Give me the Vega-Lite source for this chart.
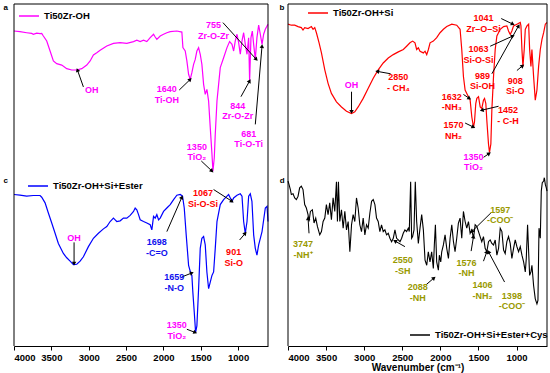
{
"$schema": "https://vega.github.io/schema/vega-lite/v6.json",
"padding": {"left": 3, "top": 3, "right": 0, "bottom": 0},
"config": {"view": {"stroke": null}, "font": "Liberation Sans",
  "axis": {"domainColor": "black", "domainWidth": 1, "grid": false, "tickColor": "black", "labelColor": "black", "labelFontWeight": "bold", "labelFontSize": 9.5, "titleColor": "black"},
  "legend": {"symbolType": "stroke", "symbolSize": 400, "symbolStrokeWidth": 1.3, "labelFontSize": 9.5, "labelFontWeight": "bold", "labelColor": "black", "title": null, "clipHeight": 10, "padding": 0, "orient": "none"}},
"resolve": {"scale": {"stroke": "independent", "color": "independent"}, "legend": {"stroke": "independent"}},
"datasets": {
"a": [{"w":4000,"T":84.2},{"w":3920,"T":83.8},{"w":3830,"T":83.2},{"w":3763,"T":82.8},{"w":3741,"T":82.3},{"w":3696,"T":83.0},{"w":3651,"T":82.7},{"w":3629,"T":82.8},{"w":3607,"T":81.3},{"w":3562,"T":78.4},{"w":3517,"T":72.5},{"w":3473,"T":66.7},{"w":3428,"T":65.1},{"w":3361,"T":64.3},{"w":3294,"T":62.2},{"w":3227,"T":61.4},{"w":3160,"T":61.4},{"w":3093,"T":62.2},{"w":3026,"T":64.3},{"w":2981,"T":66.7},{"w":2937,"T":70.2},{"w":2892,"T":71.5},{"w":2847,"T":72.9},{"w":2758,"T":75.4},{"w":2669,"T":77.0},{"w":2579,"T":77.4},{"w":2490,"T":77.0},{"w":2400,"T":78.0},{"w":2356,"T":78.8},{"w":2311,"T":78.0},{"w":2266,"T":78.8},{"w":2222,"T":78.0},{"w":2177,"T":80.3},{"w":2132,"T":82.3},{"w":2110,"T":80.7},{"w":2088,"T":79.3},{"w":2043,"T":81.3},{"w":1998,"T":82.3},{"w":1954,"T":83.2},{"w":1909,"T":83.8},{"w":1820,"T":84.2},{"w":1753,"T":83.6},{"w":1739,"T":74.5},{"w":1708,"T":72.5},{"w":1686,"T":66.7},{"w":1663,"T":58.9},{"w":1641,"T":55.9},{"w":1619,"T":59.8},{"w":1596,"T":64.7},{"w":1574,"T":67.6},{"w":1552,"T":72.5},{"w":1529,"T":74.5},{"w":1507,"T":70.6},{"w":1485,"T":64.7},{"w":1462,"T":53.0},{"w":1440,"T":47.2},{"w":1418,"T":50.1},{"w":1395,"T":43.3},{"w":1373,"T":27.7},{"w":1350,"T":12.1},{"w":1337,"T":2.3},{"w":1319,"T":10.1},{"w":1306,"T":23.8},{"w":1283,"T":43.3},{"w":1261,"T":53.0},{"w":1239,"T":62.8},{"w":1194,"T":68.6},{"w":1149,"T":74.5},{"w":1114,"T":78.0},{"w":1082,"T":76.4},{"w":1060,"T":72.5},{"w":1038,"T":78.4},{"w":1015,"T":82.3},{"w":993,"T":77.4},{"w":971,"T":70.6},{"w":948,"T":78.4},{"w":926,"T":83.2},{"w":904,"T":76.4},{"w":881,"T":70.6},{"w":859,"T":80.3},{"w":846,"T":55.0},{"w":828,"T":80.3},{"w":810,"T":84.2},{"w":792,"T":76.4},{"w":770,"T":67.6},{"w":748,"T":80.3},{"w":725,"T":87.7},{"w":703,"T":82.3},{"w":680,"T":76.4},{"w":658,"T":82.3},{"w":636,"T":85.2},{"w":613,"T":87.1},{"w":600,"T":88.1}],
"b": [{"w":4000,"T":88.2},{"w":3956,"T":87.6},{"w":3912,"T":87.6},{"w":3868,"T":86.8},{"w":3825,"T":86.2},{"w":3803,"T":84.8},{"w":3781,"T":86.2},{"w":3737,"T":85.6},{"w":3693,"T":86.8},{"w":3671,"T":85.2},{"w":3649,"T":86.2},{"w":3627,"T":83.2},{"w":3592,"T":77.3},{"w":3561,"T":71.4},{"w":3517,"T":61.5},{"w":3474,"T":53.6},{"w":3430,"T":47.7},{"w":3364,"T":42.8},{"w":3298,"T":39.8},{"w":3232,"T":37.3},{"w":3166,"T":35.9},{"w":3123,"T":36.9},{"w":3079,"T":39.8},{"w":3013,"T":44.8},{"w":2947,"T":50.7},{"w":2881,"T":56.6},{"w":2816,"T":61.5},{"w":2750,"T":65.5},{"w":2684,"T":68.4},{"w":2618,"T":70.4},{"w":2552,"T":72.0},{"w":2486,"T":73.4},{"w":2443,"T":75.3},{"w":2399,"T":77.3},{"w":2364,"T":78.3},{"w":2333,"T":77.3},{"w":2311,"T":73.4},{"w":2289,"T":74.4},{"w":2267,"T":72.4},{"w":2223,"T":71.4},{"w":2201,"T":72.4},{"w":2179,"T":70.4},{"w":2157,"T":73.4},{"w":2135,"T":77.3},{"w":2092,"T":78.3},{"w":2048,"T":80.3},{"w":2004,"T":83.2},{"w":1960,"T":85.2},{"w":1916,"T":86.8},{"w":1850,"T":88.2},{"w":1785,"T":87.6},{"w":1741,"T":85.2},{"w":1719,"T":73.4},{"w":1697,"T":57.6},{"w":1675,"T":49.7},{"w":1653,"T":47.7},{"w":1631,"T":45.8},{"w":1609,"T":43.8},{"w":1587,"T":33.9},{"w":1565,"T":28.0},{"w":1552,"T":31.0},{"w":1535,"T":41.8},{"w":1521,"T":44.8},{"w":1499,"T":45.8},{"w":1477,"T":39.8},{"w":1456,"T":38.9},{"w":1434,"T":43.8},{"w":1420,"T":44.8},{"w":1403,"T":41.8},{"w":1390,"T":32.0},{"w":1368,"T":18.1},{"w":1355,"T":13.2},{"w":1337,"T":18.1},{"w":1324,"T":37.9},{"w":1302,"T":57.6},{"w":1280,"T":73.4},{"w":1258,"T":81.3},{"w":1214,"T":85.2},{"w":1170,"T":86.8},{"w":1127,"T":87.2},{"w":1105,"T":84.2},{"w":1083,"T":82.2},{"w":1061,"T":84.2},{"w":1039,"T":87.2},{"w":995,"T":88.2},{"w":951,"T":89.2},{"w":942,"T":87.2},{"w":929,"T":73.4},{"w":916,"T":63.5},{"w":899,"T":73.4},{"w":885,"T":85.2},{"w":863,"T":87.2},{"w":841,"T":88.2},{"w":828,"T":73.4},{"w":811,"T":63.5},{"w":798,"T":73.4},{"w":776,"T":57.6},{"w":754,"T":43.8},{"w":732,"T":49.7},{"w":710,"T":63.5},{"w":688,"T":73.4},{"w":666,"T":79.3},{"w":644,"T":83.2},{"w":622,"T":88.2},{"w":600,"T":89.2}],
"c": [{"w":4000,"T":88.6},{"w":3920,"T":88.2},{"w":3830,"T":87.6},{"w":3741,"T":88.0},{"w":3651,"T":88.0},{"w":3629,"T":87.0},{"w":3584,"T":83.7},{"w":3540,"T":77.8},{"w":3495,"T":71.9},{"w":3450,"T":65.9},{"w":3406,"T":60.0},{"w":3339,"T":54.1},{"w":3294,"T":51.6},{"w":3249,"T":49.6},{"w":3205,"T":47.6},{"w":3160,"T":47.8},{"w":3115,"T":49.6},{"w":3071,"T":52.2},{"w":3004,"T":58.1},{"w":2937,"T":63.0},{"w":2870,"T":65.9},{"w":2803,"T":68.5},{"w":2758,"T":69.9},{"w":2713,"T":72.8},{"w":2669,"T":74.8},{"w":2646,"T":73.8},{"w":2624,"T":72.8},{"w":2579,"T":73.2},{"w":2535,"T":74.8},{"w":2490,"T":74.8},{"w":2445,"T":76.4},{"w":2400,"T":78.7},{"w":2378,"T":80.7},{"w":2356,"T":79.7},{"w":2333,"T":76.8},{"w":2311,"T":73.8},{"w":2266,"T":72.8},{"w":2222,"T":71.9},{"w":2177,"T":70.9},{"w":2155,"T":67.9},{"w":2132,"T":75.8},{"w":2110,"T":74.8},{"w":2088,"T":76.8},{"w":2065,"T":73.8},{"w":2043,"T":74.8},{"w":1998,"T":78.7},{"w":1954,"T":80.7},{"w":1909,"T":82.7},{"w":1864,"T":85.6},{"w":1820,"T":88.2},{"w":1775,"T":88.6},{"w":1744,"T":87.6},{"w":1721,"T":80.7},{"w":1695,"T":65.0},{"w":1663,"T":47.2},{"w":1632,"T":42.3},{"w":1619,"T":41.3},{"w":1606,"T":31.5},{"w":1587,"T":19.7},{"w":1569,"T":7.9},{"w":1552,"T":11.8},{"w":1529,"T":33.5},{"w":1507,"T":57.1},{"w":1485,"T":63.0},{"w":1462,"T":64.0},{"w":1440,"T":59.1},{"w":1418,"T":43.3},{"w":1395,"T":33.5},{"w":1373,"T":37.4},{"w":1350,"T":41.3},{"w":1328,"T":43.3},{"w":1306,"T":57.1},{"w":1283,"T":72.8},{"w":1239,"T":82.7},{"w":1194,"T":85.6},{"w":1149,"T":87.6},{"w":1127,"T":88.6},{"w":1105,"T":86.6},{"w":1082,"T":84.6},{"w":1060,"T":86.6},{"w":1015,"T":88.2},{"w":971,"T":89.0},{"w":948,"T":87.6},{"w":926,"T":72.8},{"w":904,"T":65.9},{"w":881,"T":72.8},{"w":859,"T":87.6},{"w":837,"T":89.0},{"w":815,"T":84.6},{"w":792,"T":65.0},{"w":770,"T":57.1},{"w":748,"T":53.1},{"w":725,"T":59.1},{"w":680,"T":66.9},{"w":636,"T":80.7},{"w":613,"T":81.7},{"w":600,"T":72.8}],
"d": [{"w":4000,"T":96.5},{"w":3987,"T":94.5},{"w":3969,"T":91.5},{"w":3956,"T":88.6},{"w":3934,"T":89.0},{"w":3912,"T":86.6},{"w":3890,"T":85.6},{"w":3868,"T":87.6},{"w":3847,"T":92.5},{"w":3825,"T":93.5},{"w":3803,"T":91.5},{"w":3781,"T":82.7},{"w":3759,"T":80.7},{"w":3737,"T":76.8},{"w":3724,"T":72.8},{"w":3706,"T":78.7},{"w":3680,"T":79.7},{"w":3658,"T":71.9},{"w":3636,"T":74.8},{"w":3614,"T":69.9},{"w":3583,"T":65.0},{"w":3561,"T":66.9},{"w":3539,"T":72.8},{"w":3517,"T":74.8},{"w":3496,"T":82.7},{"w":3474,"T":76.8},{"w":3452,"T":83.7},{"w":3430,"T":73.8},{"w":3408,"T":86.6},{"w":3386,"T":78.7},{"w":3364,"T":96.1},{"w":3351,"T":72.8},{"w":3338,"T":96.1},{"w":3320,"T":72.8},{"w":3298,"T":79.7},{"w":3276,"T":68.9},{"w":3254,"T":78.7},{"w":3232,"T":67.9},{"w":3210,"T":72.8},{"w":3188,"T":55.1},{"w":3166,"T":70.9},{"w":3145,"T":76.8},{"w":3123,"T":72.8},{"w":3101,"T":86.6},{"w":3079,"T":80.7},{"w":3057,"T":70.9},{"w":3035,"T":66.9},{"w":3013,"T":74.8},{"w":2991,"T":65.0},{"w":2969,"T":70.9},{"w":2947,"T":68.9},{"w":2925,"T":77.8},{"w":2903,"T":84.6},{"w":2881,"T":85.6},{"w":2859,"T":82.7},{"w":2838,"T":74.8},{"w":2816,"T":72.8},{"w":2794,"T":66.9},{"w":2772,"T":70.9},{"w":2750,"T":66.9},{"w":2728,"T":67.9},{"w":2706,"T":65.0},{"w":2684,"T":65.9},{"w":2662,"T":63.0},{"w":2640,"T":61.0},{"w":2618,"T":63.0},{"w":2596,"T":67.9},{"w":2574,"T":63.0},{"w":2552,"T":62.0},{"w":2530,"T":61.0},{"w":2508,"T":63.0},{"w":2487,"T":65.9},{"w":2465,"T":67.9},{"w":2443,"T":66.9},{"w":2421,"T":68.9},{"w":2408,"T":66.9},{"w":2390,"T":96.1},{"w":2377,"T":63.0},{"w":2364,"T":64.0},{"w":2346,"T":67.9},{"w":2329,"T":96.1},{"w":2311,"T":72.8},{"w":2289,"T":60.0},{"w":2267,"T":68.9},{"w":2245,"T":76.8},{"w":2223,"T":67.9},{"w":2201,"T":50.2},{"w":2179,"T":47.2},{"w":2158,"T":55.1},{"w":2136,"T":49.2},{"w":2114,"T":55.1},{"w":2092,"T":45.3},{"w":2079,"T":59.1},{"w":2065,"T":70.9},{"w":2048,"T":49.2},{"w":2026,"T":44.3},{"w":2013,"T":53.1},{"w":1995,"T":49.2},{"w":1982,"T":55.1},{"w":1960,"T":59.1},{"w":1938,"T":65.0},{"w":1916,"T":57.1},{"w":1894,"T":51.2},{"w":1872,"T":63.0},{"w":1850,"T":70.9},{"w":1828,"T":61.0},{"w":1807,"T":55.1},{"w":1785,"T":63.0},{"w":1763,"T":71.9},{"w":1741,"T":74.8},{"w":1719,"T":63.0},{"w":1697,"T":78.7},{"w":1675,"T":72.8},{"w":1653,"T":68.9},{"w":1631,"T":72.8},{"w":1609,"T":65.9},{"w":1587,"T":67.9},{"w":1565,"T":63.0},{"w":1543,"T":70.9},{"w":1521,"T":69.9},{"w":1499,"T":66.9},{"w":1478,"T":64.0},{"w":1456,"T":61.0},{"w":1434,"T":64.0},{"w":1412,"T":57.1},{"w":1390,"T":55.1},{"w":1368,"T":61.0},{"w":1346,"T":62.0},{"w":1324,"T":60.0},{"w":1302,"T":59.1},{"w":1280,"T":62.0},{"w":1258,"T":53.1},{"w":1236,"T":57.1},{"w":1214,"T":68.9},{"w":1192,"T":66.9},{"w":1170,"T":56.1},{"w":1149,"T":54.1},{"w":1127,"T":61.0},{"w":1105,"T":64.0},{"w":1083,"T":60.0},{"w":1061,"T":51.2},{"w":1039,"T":57.1},{"w":1017,"T":62.0},{"w":995,"T":58.1},{"w":973,"T":55.1},{"w":951,"T":58.1},{"w":929,"T":53.1},{"w":907,"T":49.2},{"w":885,"T":43.3},{"w":872,"T":51.2},{"w":855,"T":70.9},{"w":841,"T":55.1},{"w":828,"T":41.3},{"w":811,"T":43.3},{"w":798,"T":47.2},{"w":776,"T":35.4},{"w":754,"T":27.6},{"w":732,"T":24.6},{"w":719,"T":26.6},{"w":705,"T":68.9},{"w":688,"T":63.0},{"w":675,"T":90.6},{"w":662,"T":95.5},{"w":644,"T":96.5},{"w":635,"T":98.4},{"w":622,"T":94.5},{"w":609,"T":92.5},{"w":600,"T":90.6}],
"annA": [
{"label":"OH","band":"Ti50Zr-OH","w":2959,"T":49.5,"w1":3071,"T1":51.5,"w2":3151,"T2":61.4},
{"label":"1640\nTi-OH","band":"Ti50Zr-OH","w":1954,"T":50.1,"w1":1788,"T1":49.7,"w2":1641,"T2":55.9},
{"label":"1350\nTiO₂","band":"Ti50Zr-OH","w":1552,"T":16.6,"w1":1493,"T1":8.2,"w2":1350,"T2":2.3},
{"label":"844\nZr-O-Zr","band":"Ti50Zr-OH","w":1006,"T":40.4,"w1":962,"T1":45.8,"w2":846,"T2":55.0},
{"label":"755\nZr-O-Zr","band":"Ti50Zr-OH","w":1328,"T":87.7,"w1":1203,"T1":89.1,"w2":756,"T2":67.6},
{"label":"681\nTi-O-Ti","band":"Ti50Zr-OH","w":859,"T":24.2,"w1":770,"T1":29.6,"w2":680,"T2":75.4}],
"annB": [
{"label":"OH","band":"Ti50Zr-OH","w":3166,"T":52.7,"w1":3166,"T1":48.7,"w2":3166,"T2":36.9},
{"label":"2850\n- CH₄","band":"Si","w":2552,"T":57.2,"w1":2653,"T1":59.2,"w2":2829,"T2":60.6},
{"label":"1632\n-NH₃","band":"Si","w":1850,"T":45.8,"w1":1697,"T1":47.1,"w2":1618,"T2":44.8},
{"label":"1570\nNH₂","band":"Si","w":1828,"T":29.0,"w1":1675,"T1":30.4,"w2":1565,"T2":28.0},
{"label":"1452\n- C-H","band":"Si","w":1113,"T":37.9,"w1":1236,"T1":40.2,"w2":1456,"T2":37.9},
{"label":"1350\nTiO₂","band":"Ti50Zr-OH","w":1565,"T":10.7,"w1":1434,"T1":10.3,"w2":1359,"T2":12.6},
{"label":"1041\nZr–O–Si","band":"Si","w":1434,"T":91.7,"w1":1201,"T1":91.5,"w2":1048,"T2":88.2},
{"label":"1063\nSi-O-Si","band":"Si","w":1499,"T":73.4,"w1":1346,"T1":75.3,"w2":1048,"T2":81.3},
{"label":"989\nSi-OH","band":"Si","w":1447,"T":58.0,"w1":1324,"T1":59.2,"w2":973,"T2":87.2},
{"label":"908\nSi-O","band":"Si","w":1017,"T":55.2,"w1":995,"T1":61.1,"w2":920,"T2":63.9}],
"annC": [
{"label":"OH","band":"Ti50Zr-OH","w":3196,"T":63.4,"w1":3196,"T1":60.6,"w2":3196,"T2":48.2},
{"label":"1698\n-C=O","band":"Ester","w":2088,"T":60.6,"w1":1954,"T1":66.9,"w2":1753,"T2":87.0},
{"label":"1659\n-N-O","band":"Ester","w":1855,"T":40.2,"w1":1753,"T1":40.4,"w2":1619,"T2":42.7},
{"label":"1350\nTiO₂","band":"Ti50Zr-OH","w":1820,"T":12.2,"w1":1686,"T1":9.8,"w2":1574,"T2":7.9},
{"label":"1067\nSi-O-Si","band":"Si","w":1471,"T":89.4,"w1":1328,"T1":91.5,"w2":1082,"T2":84.6},
{"label":"901\nSi-O","band":"Si","w":1060,"T":54.7,"w1":980,"T1":62.0,"w2":904,"T2":65.9}],
"annD": [
{"label":"3747\n-NH⁺","band":"Cys","w":3803,"T":59.6,"w1":3724,"T1":65.9,"w2":3737,"T2":74.8},
{"label":"2550\n-SH","band":"Cys","w":2495,"T":50.2,"w1":2465,"T1":58.1,"w2":2596,"T2":61.4},
{"label":"2088\n-NH","band":"Cys","w":2298,"T":34.4,"w1":2188,"T1":35.8,"w2":2083,"T2":39.8},
{"label":"1576\n-NH","band":"Cys","w":1657,"T":48.8,"w1":1596,"T1":55.5,"w2":1565,"T2":64.0},
{"label":"1597\n-COO⁻","band":"Cys","w":1214,"T":79.7,"w1":1337,"T1":77.8,"w2":1587,"T2":66.9},
{"label":"1406\n-NH₂","band":"Cys","w":1447,"T":35.4,"w1":1434,"T1":49.6,"w2":1390,"T2":55.1},
{"label":"1398\n-COO⁻","band":"Cys","w":1061,"T":29.5,"w1":1157,"T1":37.4,"w2":1368,"T2":55.1}]
},
"columns": 2,
"spacing": {"row": 0, "column": 20},
"bounds": "flush",
"align": "each",
"concat": [
{"width": 254, "height": 171,
 "title": {"text": "a", "anchor": "start", "baseline": "top", "offset": -8, "dx": -8, "fontSize": 8, "fontWeight": "bold", "color": "black"},
 "layer": [
  {"data": {"name": "a"}, "mark": {"type": "line", "strokeWidth": 1.2},
   "encoding": {
    "x": {"field": "w", "type": "quantitative", "scale": {"domain": [4000, 600], "nice": false, "zero": false}, "axis": null},
    "y": {"field": "T", "type": "quantitative", "scale": {"domain": [0, 100], "nice": false}, "axis": null},
    "stroke": {"datum": "Ti50Zr-OH", "type": "nominal", "scale": {"range": ["#ff00ff"]}, "legend": {"legendX": 4, "legendY": 7}}}},
  {"data": {"values": [{}]}, "mark": {"type": "rule", "color": "black"}, "encoding": {"x": {"datum": 600, "type": "quantitative", "axis": null}}},
  {"data": {"values": [{}]}, "mark": {"type": "rule", "color": "black"}, "encoding": {"x": {"datum": 4000, "type": "quantitative", "axis": null}}},
  {"data": {"values": [{}]}, "mark": {"type": "rule", "color": "black"}, "encoding": {"y": {"datum": 100, "type": "quantitative", "axis": null}}},
  {"data": {"name": "annA"}, "mark": {"type": "rule", "color": "black", "strokeWidth": 1},
   "encoding": {"x": {"field": "w1", "type": "quantitative", "axis": null}, "y": {"field": "T1", "type": "quantitative", "axis": null}, "x2": {"field": "w2"}, "y2": {"field": "T2"}}},
  {"data": {"name": "annA"}, "transform": [{"calculate": "atan2(-(datum.w2-datum.w1)*0.0747,(datum.T2-datum.T1)*1.71)*180/PI", "as": "ang"}],
   "mark": {"type": "point", "shape": "triangle-up", "filled": true, "color": "black", "size": 20, "opacity": 1},
   "encoding": {"x": {"field": "w2", "type": "quantitative", "axis": null}, "y": {"field": "T2", "type": "quantitative", "axis": null}, "angle": {"field": "ang", "type": "quantitative", "scale": null}}},
  {"data": {"name": "annA"}, "mark": {"type": "text", "lineBreak": "\n", "fontWeight": "bold", "fontSize": 9, "lineHeight": 10.5, "baseline": "middle"},
   "encoding": {"x": {"field": "w", "type": "quantitative", "axis": null}, "y": {"field": "T", "type": "quantitative", "axis": null}, "text": {"field": "label"},
    "color": {"field": "band", "type": "nominal", "scale": {"domain": ["Ti50Zr-OH", "Si", "Ester", "Cys"], "range": ["#ff00ff", "#ff0000", "#1010ee", "#999900"]}, "legend": null}}}
 ]},
{"width": 259, "height": 171,
 "title": {"text": "b", "anchor": "start", "baseline": "top", "offset": -8, "dx": -6, "fontSize": 8, "fontWeight": "bold", "color": "black"},
 "layer": [
  {"data": {"name": "b"}, "mark": {"type": "line", "strokeWidth": 1.2},
   "encoding": {
    "x": {"field": "w", "type": "quantitative", "scale": {"domain": [4000, 600], "nice": false, "zero": false}, "axis": null},
    "y": {"field": "T", "type": "quantitative", "scale": {"domain": [0, 100], "nice": false}, "axis": null},
    "stroke": {"datum": "Ti50Zr-OH+Si", "type": "nominal", "scale": {"range": ["#ff0000"]}, "legend": {"legendX": 19, "legendY": 4}}}},
  {"data": {"values": [{}]}, "mark": {"type": "rule", "color": "black"}, "encoding": {"x": {"datum": 600, "type": "quantitative", "axis": null}}},
  {"data": {"values": [{}]}, "mark": {"type": "rule", "color": "black"}, "encoding": {"x": {"datum": 4000, "type": "quantitative", "axis": null}}},
  {"data": {"values": [{}]}, "mark": {"type": "rule", "color": "black"}, "encoding": {"y": {"datum": 100, "type": "quantitative", "axis": null}}},
  {"data": {"name": "annB"}, "mark": {"type": "rule", "color": "black", "strokeWidth": 1},
   "encoding": {"x": {"field": "w1", "type": "quantitative", "axis": null}, "y": {"field": "T1", "type": "quantitative", "axis": null}, "x2": {"field": "w2"}, "y2": {"field": "T2"}}},
  {"data": {"name": "annB"}, "transform": [{"calculate": "atan2(-(datum.w2-datum.w1)*0.0762,(datum.T2-datum.T1)*1.71)*180/PI", "as": "ang"}],
   "mark": {"type": "point", "shape": "triangle-up", "filled": true, "color": "black", "size": 20, "opacity": 1},
   "encoding": {"x": {"field": "w2", "type": "quantitative", "axis": null}, "y": {"field": "T2", "type": "quantitative", "axis": null}, "angle": {"field": "ang", "type": "quantitative", "scale": null}}},
  {"data": {"name": "annB"}, "mark": {"type": "text", "lineBreak": "\n", "fontWeight": "bold", "fontSize": 9, "lineHeight": 10.5, "baseline": "middle"},
   "encoding": {"x": {"field": "w", "type": "quantitative", "axis": null}, "y": {"field": "T", "type": "quantitative", "axis": null}, "text": {"field": "label"},
    "color": {"field": "band", "type": "nominal", "scale": {"domain": ["Ti50Zr-OH", "Si", "Ester", "Cys"], "range": ["#ff00ff", "#ff0000", "#1010ee", "#999900"]}, "legend": null}}}
 ]},
{"width": 254, "height": 171,
 "title": {"text": "c", "anchor": "start", "baseline": "top", "offset": -10, "dx": -8, "fontSize": 8, "fontWeight": "bold", "color": "black"},
 "layer": [
  {"data": {"name": "c"}, "mark": {"type": "line", "strokeWidth": 1.2},
   "encoding": {
    "x": {"field": "w", "type": "quantitative", "scale": {"domain": [4000, 600], "nice": false, "zero": false},
      "axis": {"orient": "bottom", "title": null, "values": [4000,3750,3500,3250,3000,2750,2500,2250,2000,1750,1500,1250,1000,750], "format": "d", "labelExpr": "datum.value % 500 === 0 ? datum.label : ''", "tickSize": {"condition": {"test": "datum.value % 500 === 0", "value": 4}, "value": 2}, "labelPadding": 2}},
    "y": {"field": "T", "type": "quantitative", "scale": {"domain": [0, 100], "nice": false}, "axis": null},
    "stroke": {"datum": "Ti50Zr-OH+Si+Ester", "type": "nominal", "scale": {"range": ["#0000ff"]}, "legend": {"legendX": 13, "legendY": 6}}}},
  {"data": {"values": [{}]}, "mark": {"type": "rule", "color": "black"}, "encoding": {"x": {"datum": 600, "type": "quantitative", "title": null}}},
  {"data": {"values": [{}]}, "mark": {"type": "rule", "color": "black"}, "encoding": {"x": {"datum": 4000, "type": "quantitative", "title": null}}},
  {"data": {"name": "annC"}, "mark": {"type": "rule", "color": "black", "strokeWidth": 1},
   "encoding": {"x": {"field": "w1", "type": "quantitative", "title": null}, "y": {"field": "T1", "type": "quantitative", "axis": null}, "x2": {"field": "w2"}, "y2": {"field": "T2"}}},
  {"data": {"name": "annC"}, "transform": [{"calculate": "atan2(-(datum.w2-datum.w1)*0.0747,(datum.T2-datum.T1)*1.71)*180/PI", "as": "ang"}],
   "mark": {"type": "point", "shape": "triangle-up", "filled": true, "color": "black", "size": 20, "opacity": 1},
   "encoding": {"x": {"field": "w2", "type": "quantitative", "title": null}, "y": {"field": "T2", "type": "quantitative", "axis": null}, "angle": {"field": "ang", "type": "quantitative", "scale": null}}},
  {"data": {"name": "annC"}, "mark": {"type": "text", "lineBreak": "\n", "fontWeight": "bold", "fontSize": 9, "lineHeight": 10.5, "baseline": "middle"},
   "encoding": {"x": {"field": "w", "type": "quantitative", "title": null}, "y": {"field": "T", "type": "quantitative", "axis": null}, "text": {"field": "label"},
    "color": {"field": "band", "type": "nominal", "scale": {"domain": ["Ti50Zr-OH", "Si", "Ester", "Cys"], "range": ["#ff00ff", "#ff0000", "#1010ee", "#999900"]}, "legend": null}}}
 ]},
{"width": 259, "height": 171,
 "title": {"text": "d", "anchor": "start", "baseline": "top", "offset": -10, "dx": -6, "fontSize": 8, "fontWeight": "bold", "color": "black"},
 "layer": [
  {"data": {"name": "d"}, "mark": {"type": "line", "strokeWidth": 1.1},
   "encoding": {
    "x": {"field": "w", "type": "quantitative", "scale": {"domain": [4000, 600], "nice": false, "zero": false}, "title": "Wavenumber (cm⁻¹)",
      "axis": {"orient": "bottom", "title": "Wavenumber (cm⁻¹)", "titleFontSize": 10, "titleFontWeight": "bold", "titlePadding": 1, "values": [4000,3750,3500,3250,3000,2750,2500,2250,2000,1750,1500,1250,1000,750], "format": "d", "labelExpr": "datum.value % 500 === 0 ? datum.label : ''", "tickSize": {"condition": {"test": "datum.value % 500 === 0", "value": 4}, "value": 2}, "labelPadding": 2}},
    "y": {"field": "T", "type": "quantitative", "scale": {"domain": [0, 100], "nice": false}, "axis": null},
    "stroke": {"datum": "Ti50Zr-OH+Si+Ester+Cys", "type": "nominal", "scale": {"range": ["#000000"]}, "legend": {"legendX": 121, "legendY": 155}}}},
  {"data": {"values": [{}]}, "mark": {"type": "rule", "color": "black"}, "encoding": {"x": {"datum": 600, "type": "quantitative", "title": "Wavenumber (cm⁻¹)"}}},
  {"data": {"values": [{}]}, "mark": {"type": "rule", "color": "black"}, "encoding": {"x": {"datum": 4000, "type": "quantitative", "title": "Wavenumber (cm⁻¹)"}}},
  {"data": {"name": "annD"}, "mark": {"type": "rule", "color": "black", "strokeWidth": 1},
   "encoding": {"x": {"field": "w1", "type": "quantitative", "title": "Wavenumber (cm⁻¹)"}, "y": {"field": "T1", "type": "quantitative", "axis": null}, "x2": {"field": "w2"}, "y2": {"field": "T2"}}},
  {"data": {"name": "annD"}, "transform": [{"calculate": "atan2(-(datum.w2-datum.w1)*0.0762,(datum.T2-datum.T1)*1.71)*180/PI", "as": "ang"}],
   "mark": {"type": "point", "shape": "triangle-up", "filled": true, "color": "black", "size": 20, "opacity": 1},
   "encoding": {"x": {"field": "w2", "type": "quantitative", "title": "Wavenumber (cm⁻¹)"}, "y": {"field": "T2", "type": "quantitative", "axis": null}, "angle": {"field": "ang", "type": "quantitative", "scale": null}}},
  {"data": {"name": "annD"}, "mark": {"type": "text", "lineBreak": "\n", "fontWeight": "bold", "fontSize": 9, "lineHeight": 10.5, "baseline": "middle"},
   "encoding": {"x": {"field": "w", "type": "quantitative", "title": "Wavenumber (cm⁻¹)"}, "y": {"field": "T", "type": "quantitative", "axis": null}, "text": {"field": "label"},
    "color": {"field": "band", "type": "nominal", "scale": {"domain": ["Ti50Zr-OH", "Si", "Ester", "Cys"], "range": ["#ff00ff", "#ff0000", "#1010ee", "#999900"]}, "legend": null}}}
 ]}
]
}
